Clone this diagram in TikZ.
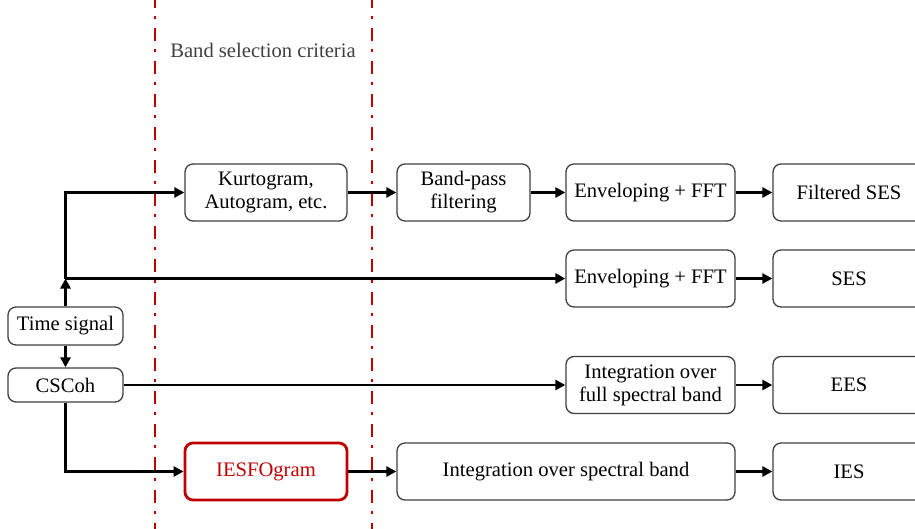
\documentclass[tikz,border=0pt]{standalone}
\usepackage{fontspec}
\setmainfont{Liberation Serif}
\usetikzlibrary{arrows.meta}
\definecolor{cred}{HTML}{C00000}
\definecolor{cgray}{HTML}{404040}
\begin{document}
\begin{tikzpicture}[x=1pt,y=-1pt,
  box/.style={draw=cgray, line width=1.3pt, rounded corners=8pt, align=center,
    inner sep=0pt, font=\fontsize{20.6}{23}\selectfont, text=black},
  redbox/.style={box, draw=cred, line width=2.8pt, text=cred},
  arr/.style={line width=2.9pt, -{Triangle[length=10pt,width=10pt]}},
  sep/.style={draw=cred, line width=2.8pt, dash pattern=on 13pt off 8pt on 3pt off 9pt}]
\clip (0,0) rectangle (915,529);
\fill[white] (0,0) rectangle (915,529);
% separators
\draw[sep] (155,-5) -- (155,535);
\draw[sep] (372,-5) -- (372,535);
\node[font=\fontsize{20.6}{24}\selectfont, text=cgray] (title) at (263,50) {Band selection criteria};
% nodes
\node[box, minimum width=115pt, minimum height=38pt] (ts) at (65.5,326) {Time signal};
\node[box, minimum width=115pt, minimum height=34pt] (cs) at (65.5,385) {CSCoh};
\node[box, minimum width=162pt, minimum height=57pt] (kurt) at (266,192.5) {Kurtogram,\\Autogram, etc.};
\node[box, minimum width=133pt, minimum height=57pt] (bp) at (463.5,192.5) {Band-pass\\filtering};
\node[box, minimum width=169pt, minimum height=57pt] (env1) at (650.5,192.5) {Enveloping + FFT};
\node[box, minimum width=152pt, minimum height=57pt] (fses) at (849,192.5) {Filtered SES};
\node[box, minimum width=169pt, minimum height=57pt] (env2) at (650.5,278.5) {Enveloping + FFT};
\node[box, minimum width=152pt, minimum height=57pt] (ses) at (849,278.5) {SES};
\node[box, minimum width=169pt, minimum height=57pt] (intf) at (650.5,385) {Integration over\\full spectral band};
\node[box, minimum width=152pt, minimum height=57pt] (ees) at (849,385) {EES};
\node[redbox, minimum width=162pt, minimum height=57pt] (iesfo) at (266,471.5) {IESFOgram};
\node[box, minimum width=338pt, minimum height=57pt] (ints) at (566,471.5) {Integration over spectral band};
\node[box, minimum width=152pt, minimum height=57pt] (ies) at (849,471.5) {IES};
\coordinate (j) at (65.5,278.5);
% connectors
\draw[arr] (ts.north) -- (j);
\draw[arr] (j) |- (kurt.west);
\draw[arr] (j) -- (env2.west);
\draw[arr] (ts.south) -- (cs.north);
\draw[arr] (cs.east) -- (intf.west);
\draw[arr] (cs.south) |- (iesfo.west);
\draw[arr] (kurt) -- (bp);
\draw[arr] (bp) -- (env1);
\draw[arr] (env1) -- (fses);
\draw[arr] (env2) -- (ses);
\draw[arr] (intf) -- (ees);
\draw[arr] (iesfo) -- (ints);
\draw[arr] (ints) -- (ies);
\end{tikzpicture}
\end{document}
